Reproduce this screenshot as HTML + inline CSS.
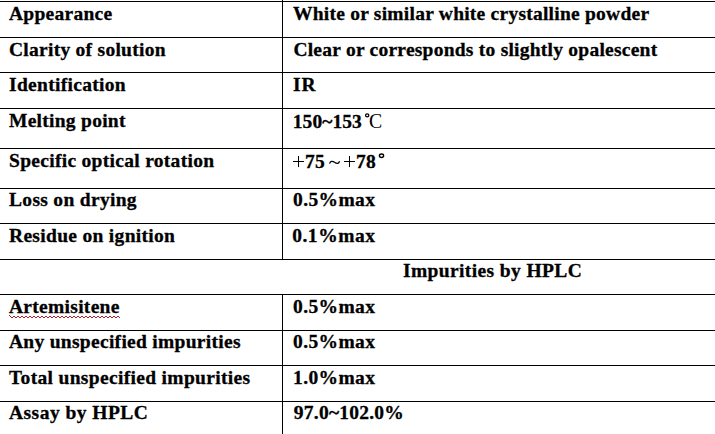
<!DOCTYPE html>
<html><head><meta charset="utf-8">
<style>
html,body{margin:0;padding:0;background:#fff;width:715px;height:434px;overflow:hidden;position:relative}
.h{position:absolute;left:0;width:715px;height:1px;background:#000}
.v{position:absolute;left:282px;width:1px;background:#000}
.p{position:absolute;background:#000}
.t{position:absolute;font:bold 19.5px/20px "Liberation Serif",serif;color:#000;white-space:nowrap;-webkit-text-stroke:0.3px #000}
svg{position:absolute}
</style></head><body>
<div class="h" style="top:1px"></div>
<div class="h" style="top:37px"></div>
<div class="h" style="top:72px"></div>
<div class="h" style="top:108px"></div>
<div class="h" style="top:148px"></div>
<div class="h" style="top:188px"></div>
<div class="h" style="top:223px"></div>
<div class="h" style="top:259px"></div>
<div class="h" style="top:294px"></div>
<div class="h" style="top:330px"></div>
<div class="h" style="top:365px"></div>
<div class="h" style="top:401px"></div>
<div class="v" style="top:0;height:260px"></div>
<div class="v" style="top:294px;height:140px"></div>
<div class="t" style="left:9.0px;top:4px;letter-spacing:0.27px">Appearance</div>
<div class="t" style="left:293.0px;top:4px;letter-spacing:0.24px">White or similar white crystalline powder</div>
<div class="t" style="left:9.0px;top:40px;letter-spacing:0.27px">Clarity of solution</div>
<div class="t" style="left:293.4px;top:40px;letter-spacing:0.24px">Clear or corresponds to slightly opalescent</div>
<div class="t" style="left:9.0px;top:75px;letter-spacing:0.31px">Identification</div>
<div class="t" style="left:293.0px;top:75px;letter-spacing:1.00px">IR</div>
<div class="t" style="left:9.0px;top:111px;letter-spacing:0.27px">Melting point</div>
<div class="t" style="left:292.8px;top:112px;letter-spacing:0.07px">150~153</div>
<div class="t" style="left:9.0px;top:151px;letter-spacing:0.30px">Specific optical rotation</div>
<div class="t" style="left:9.0px;top:190px;letter-spacing:0.31px">Loss on drying</div>
<div class="t" style="left:293.0px;top:190px;letter-spacing:0.40px">0.5%max</div>
<div class="t" style="left:9.0px;top:226px;letter-spacing:0.31px">Residue on ignition</div>
<div class="t" style="left:292.2px;top:226px;letter-spacing:0.53px">0.1%max</div>
<div class="t" style="left:403.0px;top:261px;letter-spacing:0.38px">Impurities by HPLC</div>
<div class="t" style="left:9.0px;top:297px;letter-spacing:0.29px">Artemisitene</div>
<div class="t" style="left:293.0px;top:297px;letter-spacing:0.40px">0.5%max</div>
<div class="t" style="left:9.0px;top:332px;letter-spacing:0.29px">Any unspecified impurities</div>
<div class="t" style="left:293.0px;top:332px;letter-spacing:0.40px">0.5%max</div>
<div class="t" style="left:9.0px;top:368px;letter-spacing:0.33px">Total unspecified impurities</div>
<div class="t" style="left:293.0px;top:368px;letter-spacing:0.40px">1.0%max</div>
<div class="t" style="left:9.0px;top:403px;letter-spacing:0.47px">Assay by HPLC</div>
<div class="t" style="left:293.8px;top:403px;letter-spacing:0.24px">97.0~102.0%</div>
<svg style="left:363px;top:111px" width="8" height="8"><ellipse cx="4.2" cy="4.3" rx="1.65" ry="1.55" fill="none" stroke="#000" stroke-width="1.25"/></svg>
<div class="t" style="top:111px;left:368.7px;font-weight:normal;font-size:21px;-webkit-text-stroke:0;transform:scaleX(0.94);transform-origin:0 0">C</div>
<div class="p" style="left:293px;top:161px;width:11px;height:1px"></div>
<div class="p" style="left:298px;top:156px;width:1px;height:11px"></div>
<div class="t" style="top:152px;left:305px;letter-spacing:0.3px">75</div>
<svg style="left:326px;top:154px" width="18" height="16"><path d="M3.6,9.6 C4.4,7.0 6.5,6.9 8.5,8.3 S12.6,10.3 13.6,7.3" fill="none" stroke="#000" stroke-width="1.3"/></svg>
<div class="p" style="left:344px;top:161px;width:11px;height:1px"></div>
<div class="p" style="left:349px;top:156px;width:1px;height:11px"></div>
<div class="t" style="top:152px;left:356px;letter-spacing:0.3px">78</div>
<svg style="left:376px;top:150px" width="10" height="10"><ellipse cx="5.5" cy="5.8" rx="2.1" ry="1.75" fill="none" stroke="#000" stroke-width="1.4"/></svg>
<svg style="left:9px;top:315px" width="111" height="3" shape-rendering="crispEdges" fill="#b4202a"><rect x="0" y="0" width="1" height="1"/><rect x="1" y="1" width="1" height="1"/><rect x="2" y="2" width="1" height="1"/><rect x="3" y="2" width="1" height="1"/><rect x="4" y="1" width="1" height="1"/><rect x="5" y="1" width="1" height="1"/><rect x="6" y="2" width="1" height="1"/><rect x="7" y="2" width="1" height="1"/><rect x="8" y="1" width="1" height="1"/><rect x="9" y="1" width="1" height="1"/><rect x="10" y="2" width="1" height="1"/><rect x="11" y="2" width="1" height="1"/><rect x="12" y="1" width="1" height="1"/><rect x="13" y="1" width="1" height="1"/><rect x="14" y="2" width="1" height="1"/><rect x="15" y="2" width="1" height="1"/><rect x="16" y="1" width="1" height="1"/><rect x="17" y="1" width="1" height="1"/><rect x="18" y="2" width="1" height="1"/><rect x="19" y="2" width="1" height="1"/><rect x="20" y="1" width="1" height="1"/><rect x="21" y="1" width="1" height="1"/><rect x="22" y="2" width="1" height="1"/><rect x="23" y="2" width="1" height="1"/><rect x="24" y="1" width="1" height="1"/><rect x="25" y="1" width="1" height="1"/><rect x="26" y="2" width="1" height="1"/><rect x="27" y="2" width="1" height="1"/><rect x="28" y="1" width="1" height="1"/><rect x="29" y="1" width="1" height="1"/><rect x="30" y="2" width="1" height="1"/><rect x="31" y="2" width="1" height="1"/><rect x="32" y="1" width="1" height="1"/><rect x="33" y="1" width="1" height="1"/><rect x="34" y="2" width="1" height="1"/><rect x="35" y="2" width="1" height="1"/><rect x="36" y="1" width="1" height="1"/><rect x="37" y="1" width="1" height="1"/><rect x="38" y="2" width="1" height="1"/><rect x="39" y="2" width="1" height="1"/><rect x="40" y="1" width="1" height="1"/><rect x="41" y="1" width="1" height="1"/><rect x="42" y="2" width="1" height="1"/><rect x="43" y="2" width="1" height="1"/><rect x="44" y="1" width="1" height="1"/><rect x="45" y="1" width="1" height="1"/><rect x="46" y="2" width="1" height="1"/><rect x="47" y="2" width="1" height="1"/><rect x="48" y="1" width="1" height="1"/><rect x="49" y="1" width="1" height="1"/><rect x="50" y="2" width="1" height="1"/><rect x="51" y="2" width="1" height="1"/><rect x="52" y="1" width="1" height="1"/><rect x="53" y="1" width="1" height="1"/><rect x="54" y="2" width="1" height="1"/><rect x="55" y="2" width="1" height="1"/><rect x="56" y="1" width="1" height="1"/><rect x="57" y="1" width="1" height="1"/><rect x="58" y="2" width="1" height="1"/><rect x="59" y="2" width="1" height="1"/><rect x="60" y="1" width="1" height="1"/><rect x="61" y="1" width="1" height="1"/><rect x="62" y="2" width="1" height="1"/><rect x="63" y="2" width="1" height="1"/><rect x="64" y="1" width="1" height="1"/><rect x="65" y="1" width="1" height="1"/><rect x="66" y="2" width="1" height="1"/><rect x="67" y="2" width="1" height="1"/><rect x="68" y="1" width="1" height="1"/><rect x="69" y="1" width="1" height="1"/><rect x="70" y="2" width="1" height="1"/><rect x="71" y="2" width="1" height="1"/><rect x="72" y="1" width="1" height="1"/><rect x="73" y="1" width="1" height="1"/><rect x="74" y="2" width="1" height="1"/><rect x="75" y="2" width="1" height="1"/><rect x="76" y="1" width="1" height="1"/><rect x="77" y="1" width="1" height="1"/><rect x="78" y="2" width="1" height="1"/><rect x="79" y="2" width="1" height="1"/><rect x="80" y="1" width="1" height="1"/><rect x="81" y="1" width="1" height="1"/><rect x="82" y="2" width="1" height="1"/><rect x="83" y="2" width="1" height="1"/><rect x="84" y="1" width="1" height="1"/><rect x="85" y="1" width="1" height="1"/><rect x="86" y="2" width="1" height="1"/><rect x="87" y="2" width="1" height="1"/><rect x="88" y="1" width="1" height="1"/><rect x="89" y="1" width="1" height="1"/><rect x="90" y="2" width="1" height="1"/><rect x="91" y="2" width="1" height="1"/><rect x="92" y="1" width="1" height="1"/><rect x="93" y="1" width="1" height="1"/><rect x="94" y="2" width="1" height="1"/><rect x="95" y="2" width="1" height="1"/><rect x="96" y="1" width="1" height="1"/><rect x="97" y="1" width="1" height="1"/><rect x="98" y="2" width="1" height="1"/><rect x="99" y="2" width="1" height="1"/><rect x="100" y="1" width="1" height="1"/><rect x="101" y="1" width="1" height="1"/><rect x="102" y="2" width="1" height="1"/><rect x="103" y="2" width="1" height="1"/><rect x="104" y="1" width="1" height="1"/><rect x="105" y="1" width="1" height="1"/><rect x="106" y="2" width="1" height="1"/><rect x="107" y="2" width="1" height="1"/><rect x="108" y="1" width="1" height="1"/><rect x="109" y="1" width="1" height="1"/><rect x="110" y="2" width="1" height="1"/></svg>
</body></html>
